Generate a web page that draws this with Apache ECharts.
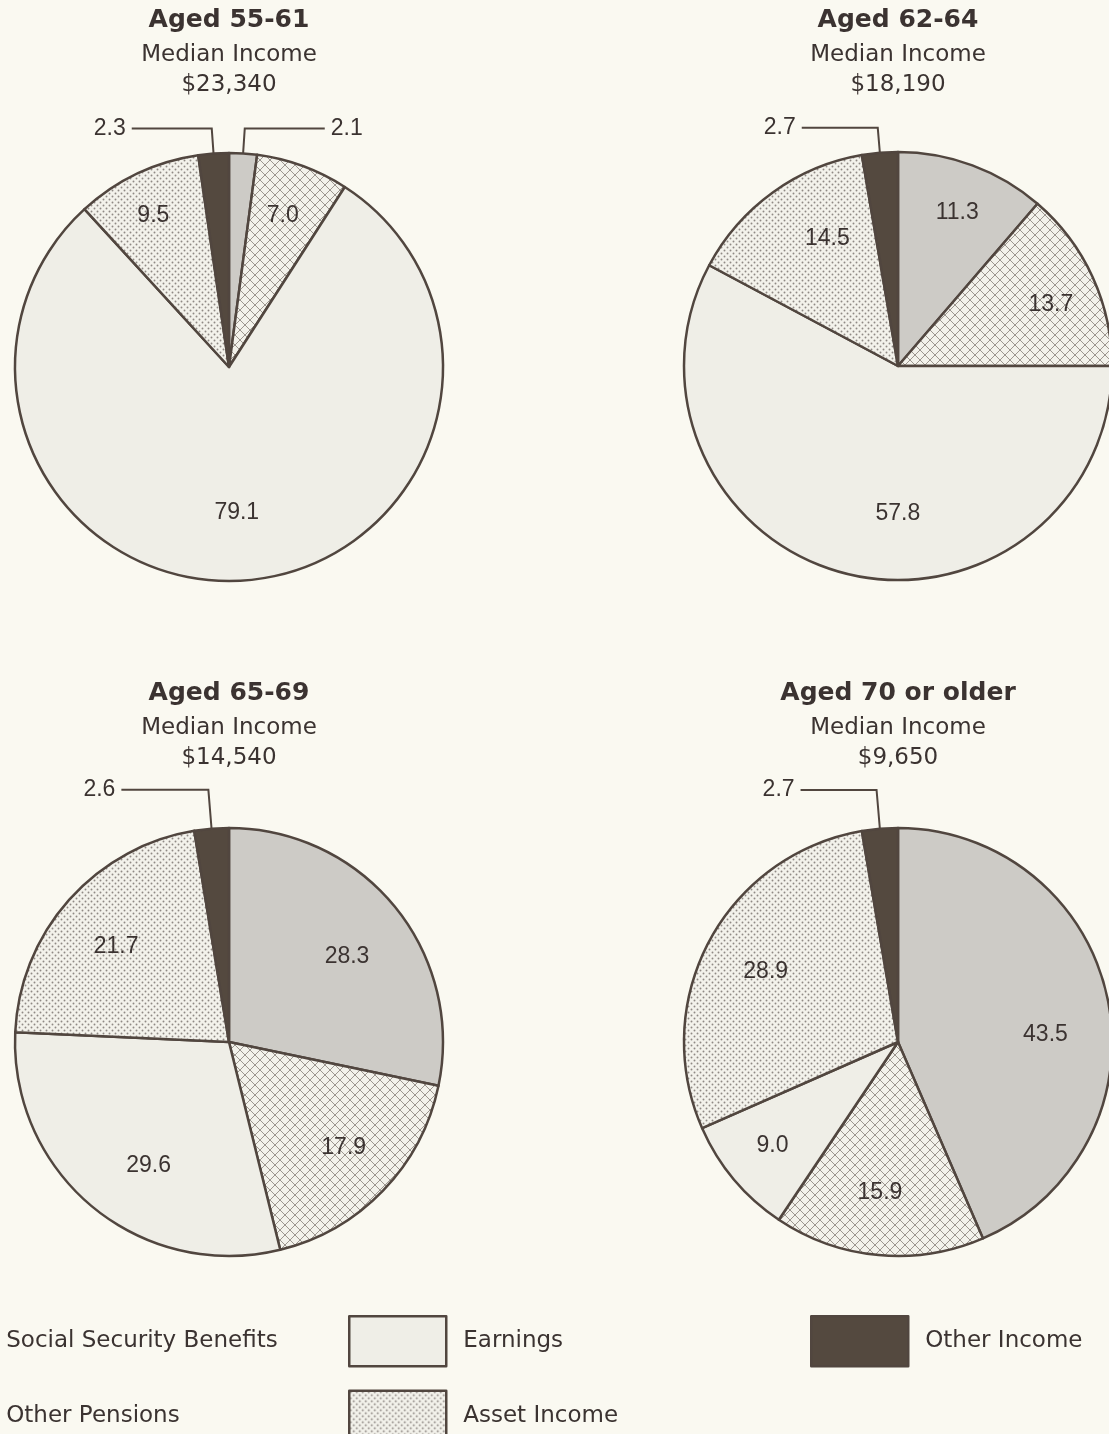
<!DOCTYPE html>
<html>
<head>
<meta charset="utf-8">
<title>Income sources by age</title>
<script src="https://cdn.jsdelivr.net/npm/echarts@6/dist/echarts.min.js"></script>
<style>
  html, body { margin: 0; padding: 0; background: #faf9f1; }
  #chart { width: 1109px; height: 1434px; }
</style>
</head>
<body>
<div id="chart"></div>
<script>
// ---- data -------------------------------------------------------------
const categories = ['Social Security Benefits', 'Other Pensions', 'Earnings', 'Asset Income', 'Other Income'];
const ageGroups = ['Aged 55-61', 'Aged 62-64', 'Aged 65-69', 'Aged 70 or older'];
const medianIncome = ['$23,340', '$18,190', '$14,540', '$9,650'];

// shares of total income, percent, in category order
const aged55to61 = [2.1, 7.0, 79.1, 9.5, 2.3];
const aged62to64 = [11.3, 13.7, 57.8, 14.5, 2.7];
const aged65to69 = [28.3, 17.9, 29.6, 21.7, 2.6];
const aged70plus = [43.5, 15.9, 9.0, 28.9, 2.7];
const groupShares = [aged55to61, aged62to64, aged65to69, aged70plus];

// ---- styling ----------------------------------------------------------
const BG = '#faf9f1';
const INK = '#3b3331';
const OUTLINE = '#51463f';
const PIE_RADIUS = 214;
const PIE_CENTERS = [[229, 367], [898, 366], [229, 1042], [898, 1042]];
const TITLE_TOPS = [5, 5, 678, 678];
const SMALL_SLICE = 3;              // slices below this share get an outside label
// leader line [length, length2] for outside labels, per pie
const LEADERS = [[25, 80], [25, 76], [39, 87], [39, 76]];
// inside label placement per pie and category: [fraction of radius, turn in degrees]
const LABEL_SPOTS = [
  [null, [0.75, -0.6], [0.68, 1.8], [0.79, -1.2], null],
  [[0.77, 0.7], [0.77, 2.7], [0.69, -14], [0.68, 6.8], null],
  [[0.68, 3.3], [0.73, -1.2], [0.69, -6.4], [0.69, -1.5], null],
  [[0.69, 8.7], [0.71, 1.6], [0.76, 0.5], [0.70, -0.3], null]
];

function makeTile(size, draw) {
  const c = document.createElement('canvas');
  c.width = size; c.height = size;
  const ctx = c.getContext('2d');
  draw(ctx, size);
  return c;
}
// diagonal cross-hatch
const hatchTile = makeTile(10, (ctx, s) => {
  ctx.fillStyle = '#f3f2eb';
  ctx.fillRect(0, 0, s, s);
  ctx.strokeStyle = '#9c968f';
  ctx.lineWidth = 1;
  ctx.beginPath();
  ctx.moveTo(0, 0); ctx.lineTo(s, s);
  ctx.moveTo(s, 0); ctx.lineTo(0, s);
  ctx.stroke();
});
// staggered dot screen
const dotTile = makeTile(6, (ctx, s) => {
  ctx.fillStyle = '#f3f2eb';
  ctx.fillRect(0, 0, s, s);
  ctx.fillStyle = '#8f8984';
  [[1.5, 1.5], [4.5, 4.5]].forEach(([x, y]) => {
    ctx.beginPath(); ctx.arc(x, y, 0.95, 0, Math.PI * 2); ctx.fill();
  });
});

const FILLS = {
  'Social Security Benefits': '#cdcbc6',
  'Other Pensions': { image: hatchTile, repeat: 'repeat' },
  'Earnings': '#efeee7',
  'Asset Income': { image: dotTile, repeat: 'repeat' },
  'Other Income': '#54493f'
};

// ---- series -------------------------------------------------------------
const series = groupShares.map((shares, p) => ({
  type: 'pie',
  name: ageGroups[p],
  center: PIE_CENTERS[p],
  radius: [0, PIE_RADIUS],
  startAngle: 90,
  clockwise: true,
  avoidLabelOverlap: false,
  silent: true,
  itemStyle: { borderColor: OUTLINE, borderWidth: 2.5 },
  label: {
    position: 'inside',
    fontFamily: 'Liberation Sans, Arial, sans-serif',
    fontSize: 23,
    color: INK,
    formatter: (d) => d.value.toFixed(1)
  },
  labelLine: { show: true, lineStyle: { color: OUTLINE, width: 2 } },
  labelLayout: (params) => {
    const spot = LABEL_SPOTS[params.seriesIndex][params.dataIndex];
    if (!spot) return {};
    const c = PIE_CENTERS[params.seriesIndex];
    const r = params.labelRect;
    const lx = r.x + r.width / 2, ly = r.y + r.height / 2;
    const ang = Math.atan2(ly - c[1], lx - c[0]) + spot[1] * Math.PI / 180;
    const d = spot[0] * PIE_RADIUS;
    return { dx: c[0] + d * Math.cos(ang) - lx, dy: c[1] + d * Math.sin(ang) - ly };
  },
  data: categories.map((name, i) => {
    const item = { name, value: shares[i], itemStyle: { color: FILLS[name] } };
    if (shares[i] < SMALL_SLICE) {
      item.label = { position: 'outside', distanceToLabelLine: 6 };
      item.labelLine = { show: true, length: LEADERS[p][0], length2: LEADERS[p][1] };
    }
    return item;
  })
}));

// ---- titles ---------------------------------------------------------------
const titles = ageGroups.map((g, i) => ({
  text: g,
  subtext: 'Median Income\n' + medianIncome[i],
  left: PIE_CENTERS[i][0],
  top: TITLE_TOPS[i],
  textAlign: 'center',
  itemGap: 5,
  padding: 0,
  textStyle: { fontFamily: 'DejaVu Sans', fontWeight: 'bold', fontSize: 25, color: INK, lineHeight: 30 },
  subtextStyle: { fontFamily: 'DejaVu Sans', fontSize: 23, color: INK, lineHeight: 30 }
}));

// ---- legends --------------------------------------------------------------
function legendBlock(names, left) {
  return {
    data: names,
    orient: 'vertical',
    left: left,
    top: 1315,
    width: 500,
    height: 200,
    padding: 0,
    itemWidth: 97,
    itemHeight: 50,
    itemGap: 22,
    icon: 'rect',
    selectedMode: false,
    itemStyle: { borderColor: OUTLINE, borderWidth: 2.5 },
    textStyle: { fontFamily: 'DejaVu Sans', fontSize: 23, color: INK, padding: [0, 0, 0, 12] }
  };
}

const chart = echarts.init(document.getElementById('chart'), null, { renderer: 'canvas' });
chart.setOption({
  backgroundColor: BG,
  animation: false,
  title: titles,
  legend: [
    legendBlock([categories[0], categories[1]], -109),
    legendBlock([categories[2], categories[3]], 348),
    legendBlock([categories[4]], 810)
  ],
  series: series
});
</script>
</body>
</html>
